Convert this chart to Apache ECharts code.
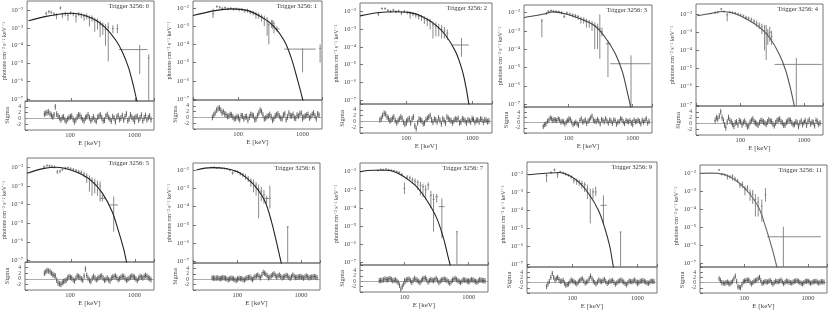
<!DOCTYPE html>
<html><head><meta charset="utf-8">
<script src="https://cdn.jsdelivr.net/npm/echarts@6/dist/echarts.min.js"></script>
<style>html,body{margin:0;padding:0;background:#fff}#c{width:830px;height:311px}</style>
</head><body><div id="c"></div>
<script>
// ---------------- DATA ----------------
const triggers = ['0','1','2','3','4','5','6','7','9','11'];
const energyRange = [20, 2000];
const fluxRanges = [
  [7.8e-8, 3.2e-2],[8.9e-8, 2.4e-2],[5.9e-8, 3.1e-2],[6.9e-8, 2.6e-2],[8.7e-8, 3.6e-2],
  [8.1e-8, 3.3e-2],[8.5e-8, 2.4e-2],[7.4e-8, 3.0e-2],[6.8e-8, 4.6e-2],[6.3e-8, 2.9e-2]
];
const sigmaRange = [-4, 6];
const sigmaTicks = [-2, 0, 2, 4];

// model curves [E keV, photons cm^-2 s^-1 keV^-1]
const model0 = [[21,2.5e-3],[40,4.4e-3],[63,5.8e-3],[100,6.6e-3],[158,5.1e-3],[251,2.5e-3],[355,8.9e-4],[500,2.0e-4],[630,4.7e-5],[794,5.8e-6],[944,5.8e-7],[1059,1.0e-7],[1150,3.2e-8]];
const model1 = [[20,3.8e-3],[44,7.1e-3],[79,8.9e-3],[142,7.1e-3],[257,2.5e-3],[367,8.9e-4],[520,1.6e-4],[661,2.0e-5],[838,1.1e-6],[1000,1.0e-7],[1100,2.5e-8]];
const model2 = [[20,5.8e-3],[38.5,8.9e-3],[69,1.0e-2],[110,9.1e-3],[175,5.4e-3],[278,1.8e-3],[394,4.8e-4],[560,5.5e-5],[705,5.0e-6],[810,5.0e-7],[890,6.3e-8],[950,1.6e-8]];
const model3 = [[20,5.4e-3],[39,8.1e-3],[57,1.1e-2],[94,8.1e-3],[155,4.4e-3],[254,1.9e-3],[370,4.5e-4],[535,5.6e-5],[690,5.8e-6],[830,3.9e-7],[920,7.9e-8],[980,2.5e-8]];
const model4 = [[21,8.1e-3],[35,1.1e-2],[52,1.4e-2],[79,1.1e-2],[127,5.2e-3],[203,1.8e-3],[289,5.0e-4],[412,6.0e-5],[520,7.4e-6],[620,7.1e-7],[700,1.0e-7],[760,2.5e-8]];
const model5 = [[20,5.0e-3],[37,9.1e-3],[59,1.05e-2],[94,7.6e-3],[151,4.0e-3],[215,1.7e-3],[307,4.2e-4],[437,4.3e-5],[555,3.5e-6],[660,4.5e-7],[740,7.9e-8],[800,2.5e-8]];
const model6 = [[22.6,1.0e-2],[39,1.35e-2],[62,1.25e-2],[100,8.1e-3],[142,3.5e-3],[203,1.0e-3],[273,1.9e-4],[345,1.5e-5],[412,1.2e-6],[493,8.0e-8],[540,2.5e-8]];
const model7 = [[20,1.0e-2],[32,1.2e-2],[51,1.2e-2],[74,9.1e-3],[106,4.3e-3],[153,1.5e-3],[220,2.8e-4],[316,2.8e-5],[403,2.2e-6],[483,1.7e-7],[513,7.4e-8],[560,2.0e-8]];
const model8 = [[21,9.1e-3],[40,1.1e-2],[63,1.2e-2],[89,8.1e-3],[126,3.5e-3],[178,7.9e-4],[251,9.5e-5],[316,9.3e-6],[376,9.1e-7],[422,8.7e-8],[460,2.0e-8]];
const model9 = [[20.3,1.0e-2],[30,1.02e-2],[39,1.0e-2],[59,6.5e-3],[84,2.8e-3],[119,7.8e-4],[170,1.15e-4],[215,1.1e-5],[273,6.8e-7],[325,6.3e-8],[350,2.0e-8]];

// measured points [E, flux, low, high, (Elow, Ehigh)]
const data0 = [[40,6.5e-3,5e-3,8e-3],[44,8e-3,6.5e-3,1e-2],[48,7.5e-3,6e-3,9e-3],[53,6e-3,4.5e-3,7.5e-3],[58,5e-3,3e-3,6.5e-3],[67,1.3e-2,1.05e-2,1.6e-2],[72,5.5e-3,3.5e-3,7e-3],[80,6.5e-3,4.5e-3,8e-3],[88,5e-3,2.5e-3,7e-3],[97,7e-3,5.5e-3,8.5e-3],[107,6.2e-3,4.5e-3,7.5e-3],[118,4.5e-3,2e-3,6.5e-3],[130,6e-3,4.5e-3,7.5e-3],[143,5.5e-3,3.5e-3,7e-3],[158,4.5e-3,2.5e-3,6e-3],[174,4.8e-3,3e-3,6.2e-3],[192,3.5e-3,1.2e-3,5e-3],[211,3.8e-3,2.2e-3,5e-3],[233,2.5e-3,6e-4,3.8e-3],[257,2.2e-3,8e-4,3.3e-3],[283,1.5e-3,3e-4,2.5e-3],[312,1.2e-3,4e-4,2e-3],[344,8e-4,1e-4,1.6e-3],[380,1.1e-3,1.3e-5,2e-3],[450,9e-4,5e-4,1.4e-3],[530,9e-4,5e-4,1.6e-3],[1190,6e-5,2.5e-6,1.1e-4,560,1580],[1650,2e-5,1e-9,3.2e-5]];
const data1 = [[41,4.7e-3,2.8e-3,9e-3],[47,1.2e-2,1e-2,1.4e-2],[52,1.1e-2,9e-3,1.3e-2],[57,9.5e-3,8e-3,1.1e-2],[63,1.05e-2,9e-3,1.2e-2],[70,9e-3,7.5e-3,1.05e-2],[77,9.5e-3,8e-3,1.1e-2],[85,8.5e-3,7e-3,1e-2],[94,9e-3,7.5e-3,1.05e-2],[104,8e-3,6.5e-3,9.5e-3],[115,8.2e-3,6.5e-3,1e-2],[127,7e-3,5.5e-3,8.5e-3],[140,7.2e-3,5.5e-3,9e-3],[155,6e-3,4.5e-3,7.5e-3],[171,5.5e-3,4e-3,7e-3],[189,4.5e-3,2.5e-3,6e-3],[209,4e-3,2.5e-3,5.5e-3],[231,3.3e-3,1.8e-3,4.5e-3],[255,2.5e-3,1e-3,3.8e-3],[282,2e-3,3e-4,3.2e-3],[300,1.2e-3,1e-4,2e-3],[330,1.5e-3,8e-4,2.2e-3],[345,1.4e-3,7e-4,2.2e-3],[360,1e-3,4e-4,1.8e-3],[400,7e-4,5e-4,1e-3,370,440],[1000,5.5e-5,2.9e-6,6e-5,520,1600],[1870,6e-5,1e-5,1e-4]];
const data2 = [[38,7.4e-3,5.5e-3,9e-3],[43,1.5e-2,1.3e-2,1.75e-2],[48,1.5e-2,1.3e-2,1.75e-2],[53,1.2e-2,1e-2,1.4e-2],[58,1.05e-2,8.5e-3,1.25e-2],[64,1.25e-2,1.05e-2,1.45e-2],[70,1e-2,8e-3,1.2e-2],[77,1.1e-2,9e-3,1.3e-2],[85,8.5e-3,6.5e-3,1.05e-2],[94,1.05e-2,8.5e-3,1.25e-2],[104,9e-3,7e-3,1.1e-2],[115,8e-3,4e-3,1e-2],[127,7.5e-3,5.5e-3,9.5e-3],[140,6.5e-3,4.5e-3,8.5e-3],[155,5.5e-3,3.5e-3,7.5e-3],[171,5e-3,3e-3,6.5e-3],[189,4e-3,2e-3,5.5e-3],[209,3.2e-3,1.5e-3,4.5e-3],[231,2.8e-3,1e-3,4e-3],[255,1.8e-3,3e-4,2.8e-3],[282,1.5e-3,4e-4,2.5e-3],[312,1.1e-3,4e-4,2e-3],[345,1e-3,3e-4,1.8e-3],[380,8e-4,3e-4,1.4e-3],[420,6e-4,2.5e-4,1e-3],[690,1.3e-4,2.8e-5,3.2e-4,500,890]];
const data3 = [[38,3.5e-3,4.5e-4,4.5e-3],[45,9e-3,7.5e-3,1.05e-2],[48,1.2e-2,1e-2,1.4e-2],[53,1.3e-2,1.1e-2,1.5e-2],[58,1.2e-2,1e-2,1.4e-2],[64,1.15e-2,9.5e-3,1.35e-2],[70,1.1e-2,9e-3,1.3e-2],[77,1e-2,8e-3,1.2e-2],[85,6e-3,5e-3,7.5e-3],[94,9.5e-3,7.5e-3,1.15e-2],[104,8.5e-3,6.5e-3,1e-2],[115,7.5e-3,5.5e-3,9e-3],[127,7e-3,5e-3,8.5e-3],[140,6e-3,4e-3,7.5e-3],[155,4.5e-3,2.5e-3,6e-3],[171,4.2e-3,2.5e-3,5.5e-3],[189,3.5e-3,1.5e-3,4.5e-3],[209,3e-3,1.5e-3,4e-3],[231,2.5e-3,1e-3,3.5e-3],[255,2e-3,1e-4,3e-3],[282,1.6e-3,1e-4,2.5e-3],[306,1.3e-3,3e-5,8e-3],[330,9e-4,5e-4,1.5e-3],[410,2e-4,3e-6,3e-4,380,450],[940,1.6e-5,1e-9,4.6e-5,445,1890]];
const data4 = [[40,1.2e-2,1e-2,1.4e-2],[44,1.25e-2,1.05e-2,1.45e-2],[50,1.9e-2,1.6e-2,2.2e-2],[55,1.4e-2,1.2e-2,1.6e-2],[62,9e-3,4e-3,1.2e-2],[68,1.3e-2,1.1e-2,1.5e-2],[75,1.2e-2,1e-2,1.4e-2],[83,1.15e-2,9.5e-3,1.35e-2],[92,1e-2,8.5e-3,1.2e-2],[101,9e-3,7.5e-3,1.05e-2],[112,8e-3,6.5e-3,9.5e-3],[123,6.5e-3,5e-3,8e-3],[135,6e-3,4.5e-3,7.5e-3],[149,5e-3,3.5e-3,6.5e-3],[164,4e-3,2.8e-3,5.2e-3],[180,3.2e-3,2e-3,4.5e-3],[198,2.5e-3,1.5e-3,3.5e-3],[218,2e-3,8e-4,3e-3],[240,1.2e-3,1e-4,2.5e-3],[255,9e-4,3e-5,2.5e-3],[270,8e-4,2e-4,1.5e-3],[290,1e-3,3e-4,2e-3],[310,6e-4,2e-4,1.2e-3],[760,1.7e-5,1e-9,3.9e-5,345,1915]];
const data5 = [[37,1.1e-2,9e-3,1.3e-2],[41,1.3e-2,1.1e-2,1.5e-2],[45,1.25e-2,1.05e-2,1.45e-2],[49,1.2e-2,1e-2,1.4e-2],[54,1.1e-2,9e-3,1.3e-2],[60,6e-3,4.5e-3,7.5e-3],[66,6.5e-3,5e-3,8e-3],[72,8e-3,6.5e-3,9.5e-3],[80,9.5e-3,8e-3,1.1e-2],[88,1e-2,8.5e-3,1.15e-2],[97,9e-3,7.5e-3,1.05e-2],[107,8e-3,6.5e-3,9.5e-3],[118,7e-3,5.5e-3,8.5e-3],[130,6e-3,4.5e-3,7.5e-3],[143,5.5e-3,4e-3,7e-3],[158,4.5e-3,3e-3,6e-3],[174,3.5e-3,1.5e-3,5e-3],[192,2.5e-3,5e-4,3.8e-3],[211,2e-3,3e-4,3e-3],[233,1.5e-3,4e-4,2.5e-3],[257,1.2e-3,3e-4,2e-3],[283,1e-3,1.5e-4,1.8e-3],[307,2.2e-4,1.5e-4,3.5e-4,280,340],[463,9.7e-5,3.5e-6,2.8e-4,400,540]];
const data6 = [[39,1.35e-2,1.2e-2,1.5e-2],[43,1.4e-2,1.25e-2,1.55e-2],[47,1.3e-2,1.15e-2,1.45e-2],[52,1.35e-2,1.2e-2,1.5e-2],[57,1.25e-2,1.1e-2,1.4e-2],[63,1.2e-2,1.05e-2,1.35e-2],[69,1.15e-2,1e-2,1.3e-2],[76,1e-2,8.5e-3,1.15e-2],[84,7e-3,5.5e-3,8.5e-3],[92,9e-3,7.5e-3,1.05e-2],[101,8e-3,6.5e-3,9.5e-3],[111,6.5e-3,5e-3,8e-3],[122,5.5e-3,4e-3,7e-3],[134,4.5e-3,3e-3,6e-3],[148,3.5e-3,2.2e-3,4.8e-3],[163,2.5e-3,1.2e-3,3.5e-3],[179,2e-3,6e-4,3e-3],[197,1.5e-3,4e-4,2.2e-3],[216,9e-4,2.3e-5,1.6e-3],[238,7e-4,2e-4,1.2e-3],[262,4.5e-4,1.5e-4,8e-4],[289,2.8e-4,1.5e-4,4e-4,265,315],[325,3e-4,8e-5,1.4e-3],[620,8e-6,1e-9,8e-6]];
const data7 = [[38,1.2e-2,1.05e-2,1.35e-2],[42,1.35e-2,1.2e-2,1.5e-2],[46,1.3e-2,1.15e-2,1.45e-2],[51,1.4e-2,1.25e-2,1.55e-2],[56,1.3e-2,1.15e-2,1.45e-2],[62,1.2e-2,1.05e-2,1.35e-2],[68,1.15e-2,1e-2,1.3e-2],[75,1e-2,8.5e-3,1.15e-2],[82,9e-3,7.5e-3,1.05e-2],[90,7e-3,5.5e-3,8.5e-3],[99,1.2e-3,6e-4,2.5e-3],[109,5e-3,3.5e-3,6.5e-3],[120,4.5e-3,3e-3,6e-3],[132,3.5e-3,2.2e-3,4.8e-3],[145,3e-3,1.8e-3,4.2e-3],[160,2.5e-3,1e-3,3.5e-3],[176,1.8e-3,5e-4,2.8e-3],[193,1.5e-3,4e-4,2.2e-3],[212,1e-3,3e-4,1.8e-3],[233,1.9e-3,1e-3,2.6e-3],[256,5e-4,1e-4,9e-4],[282,3e-4,5e-6,6e-4],[316,4.2e-4,2e-4,6e-4,300,330],[380,1.2e-4,2.2e-6,3.4e-4,340,420],[654,5e-6,1e-9,5e-6]];
const data8 = [[40,8e-3,3.5e-3,1e-2],[47,1.2e-2,1e-2,1.4e-2],[53,1.7e-2,1.4e-2,2e-2],[59,1e-2,6e-3,1.2e-2],[65,1.3e-2,1.1e-2,1.5e-2],[72,1.15e-2,9.5e-3,1.35e-2],[79,1e-2,8e-3,1.2e-2],[87,8.5e-3,7e-3,1e-2],[96,7e-3,5.5e-3,8.5e-3],[105,4.5e-3,3e-3,6e-3],[116,4e-3,2.5e-3,5.5e-3],[127,3.5e-3,2.2e-3,4.8e-3],[140,3e-3,1.5e-3,4.2e-3],[154,2.5e-3,1e-3,3.5e-3],[170,1.5e-3,4e-4,2.5e-3],[188,6e-4,1.8e-5,1.5e-3],[207,1e-3,4e-4,1.6e-3],[228,1e-3,6e-4,2e-3],[300,1.8e-4,1.8e-5,6.5e-4,270,335],[550,6e-6,1e-9,6e-6]];
const data9 = [[40,1.55e-2,1.35e-2,1.75e-2],[44,9e-3,7.5e-3,1.05e-2],[49,8.5e-3,7e-3,1e-2],[54,7e-3,4.5e-3,9e-3],[59,6.5e-3,5e-3,8e-3],[65,7e-3,4e-3,9e-3],[71,5e-3,3.5e-3,6.5e-3],[78,4e-3,3e-3,5e-3],[85,2.2e-3,1.5e-3,3e-3],[93,2.5e-3,1.5e-3,3.5e-3],[102,1.3e-3,6e-4,2e-3],[112,1.5e-3,9e-4,2.2e-3],[123,8e-4,3e-4,1.3e-3],[135,7e-4,2e-4,1.2e-3],[149,3.5e-4,4e-5,7e-4],[165,2.5e-4,4e-5,5e-4],[188,1.5e-4,2e-5,3.5e-4],[215,6.3e-4,2.7e-4,1.5e-3],[411,3e-6,1e-9,1.1e-5,229,1604]];

// residual energy bins (keV): main grid and interleaved grid, residuals in sigma per panel
const residE  = [40,44,49,54,59,65,72,79,87,96,106,117,129,142,157,173,190,210,231,255,281,310,342,377,415,458,505,557,614,677,746,822,907,1000,1102,1216,1340,1478,1630,1797];
const residEb = [42,46.5,51.5,56.5,62,68.5,75.5,83,91.5,101,111.5,123,135.5,149.5,165,181.5,200,220,243,268,295,325.5,359,395.5,436,481,531,585,645,711,784,863,952,1050,1158,1277,1408,1553,1711];
const resid0 = [1.5,2,1.5,0.5,4,0.8,-0.5,0.5,-1,0.3,0.8,-1.2,0.5,1,-0.5,0.2,1.2,-0.8,0.5,-1,0.8,0.2,-0.6,1.3,-0.3,0.6,-1.1,0.9,0.1,-0.5,1.5,-0.2,0.4,-1,0.7,0.2,-0.8,1,0.3,-0.4];
const resid1 = [0,1.5,3,2.5,2,1,0.5,0.8,-0.5,0.3,-0.8,0.5,0.2,-1,1,0.5,-0.5,1.5,2,-0.5,0.3,1,-1,0.5,1.2,-0.3,0.8,-0.8,1.5,0.5,-0.2,0.8,1.2,-0.5,0.5,1,0.3,1.5,-0.5,0.8];
const resid2 = [0.5,2,2.5,1,0.5,1.5,-0.5,0.8,1,-1,0.5,-0.5,1.5,-2.5,0.8,0.2,-0.5,1,2,-0.3,0.5,1.2,-0.8,0.3,1.5,0.5,-0.5,0.8,1,-0.2,0.6,-0.5,0.3,1,-0.4,0.5,0.8,-0.3,0.4,0.2];
const resid3 = [-1.5,-0.5,1,1.5,1.2,0.8,1,0.5,-0.5,0.8,1.2,-0.8,0.2,-1,1.5,0.5,-0.3,1,2.5,0.5,1.2,-0.5,0.8,1.5,-0.2,0.6,1,-0.6,0.4,1.2,-0.4,0.5,0.8,-0.8,0.3,1,-0.5,0.2,1.5,0.5];
const resid4 = [1,1.5,4,1,-1.5,2,0.5,-1,0.5,1,-0.5,0.8,-1.2,0.4,1.5,0.2,-0.6,1,0.5,-0.3,1.2,0.6,-0.8,0.9,1.5,0.2,-0.5,0.8,1,-0.4,0.5,-1,0.8,0.3,-0.6,1.2,0.4,-0.8,0.6,0.2];
const resid5 = [2,3,2.5,1.5,1,-1.5,-2,-1,-0.5,0.8,0.3,-0.8,1,0.5,-0.5,3.5,0.2,-1,0.8,-0.4,0.5,1,-0.5,0.3,-0.8,0.6,1,-0.3,0.5,0.8,-0.5,0.2,1,0.5,-0.6,0.8,0.3,1.2,0.4,-0.3];
const resid6 = [0.5,0.3,0.5,0.2,0.6,0.3,-0.2,0.4,0.1,-0.5,0.3,0.2,-0.3,0.5,0.8,-0.2,1,1.5,0.5,2.5,1.8,0.5,1.2,2,0.8,1.5,0.5,1,1.2,0.3,1.5,0.6,0.8,1,0.4,1.2,0.5,0.8,1,0.6];
const resid7 = [0.2,0.3,0.8,0.5,1,0.2,0.5,-0.5,-3,-1,0.5,0.8,-0.5,1,0.3,-0.5,0.8,1.2,-0.3,0.6,0.2,1,-0.5,0.5,0.8,0.3,-0.8,0.4,1,0.2,-0.5,0.5,0.3,-0.3,0.6,0.2,-0.4,0.5,0.3,0.1];
const resid8 = [-1.5,0.5,3.5,1,2,0.5,0.8,-1,-0.5,1,0.3,-0.5,0.8,1.5,-0.2,0.5,2.5,0.6,-0.5,1,0.3,1.2,-0.3,0.5,0.8,-0.6,0.4,1,0.2,-0.8,0.6,0.3,1,-0.4,0.5,0.8,0.2,-0.3,0.6,0.4];
const resid9 = [1.5,0,-0.3,0.2,-0.5,0.5,2.5,-1.5,-2,0.3,0.8,1,-0.5,0.5,1,2,-0.3,0.4,0.2,0.8,-0.6,0.5,0.3,1,-0.4,0.6,0.2,-0.2,0.5,0.8,0.1,-0.5,0.4,0.6,-0.3,0.3,0.5,-0.2,0.4,0.2];
const resid0b = [1.8,2.2,1,1.2,1.5,0.2,0.2,-0.5,-0.2,0.5,-0.3,-0.5,1.2,0.3,-0.8,0.6,0.2,-0.2,-0.6,0.4,1.2,-0.8,0.8,0.3,-0.9,0.1,0.5,-0.4,1,0.6,-0.8,1.2,-0.2,0.5,-0.6,1.1,0.2,-0.5,0.8];
const resid1b = [0.8,2.5,3.2,1.5,1.2,0.3,1,0.2,-0.3,-0.2,0.6,-0.5,0.3,0.1,0.8,-0.8,0.6,2.5,0.8,-0.2,0.5,0.2,-0.4,0.9,0.4,-0.5,1.2,0.2,0.6,1,-0.3,0.4,1.5,0.2,0.8,-0.2,1,0.5,1.2];
const resid2b = [1,2.8,1.5,0.2,1,0.3,0.2,1.5,-0.3,-0.5,1,0.8,-1.5,-0.5,0.5,-0.8,0.6,1.5,0.5,0.8,-0.2,0.4,0.9,-0.6,1,0.2,0.3,0.6,-0.5,0.9,0.2,0.5,-0.2,0.6,0.3,-0.2,0.6,0.5,-0.1];
const resid3b = [-0.8,0.5,1.8,0.8,1,1.5,0.2,0.3,0.2,1.5,0.2,-0.3,-0.5,0.8,0.2,1,0.5,1.8,1,0.4,0.5,1.2,0.3,0.6,1,-0.3,0.8,0.2,1.5,0.3,0.8,0.2,-0.2,1,0.5,0.4,0.9,0.8,-0.2];
const resid4b = [2,2.5,2,-0.5,0.5,1,-0.3,0.2,-0.5,0.6,0.3,-0.2,-0.8,1,0.6,-0.2,0.3,0.8,0.1,0.5,0.8,-0.2,0.2,1.2,0.6,-0.6,0.4,1.2,0.2,-0.3,0.3,0.2,-0.4,0.9,0.6,-0.2,0.3,1,-0.3];
const resid5b = [2.5,2.8,2,1.2,-0.5,-1.8,-1.5,-0.8,0.2,0.5,-0.3,0.2,0.8,0,1,1.2,-0.5,0.2,0.3,0.1,0.8,0.2,-0.2,-0.3,0.2,0.8,0.4,0.1,0.9,0.2,-0.2,0.6,0.8,-0.1,0.2,0.6,0.8,0.9,0.1];
const resid6b = [0.4,0.4,0.3,0.4,0.5,0.1,0.1,0.3,-0.2,-0.1,0.2,-0.1,0.2,0.6,0.3,0.5,1.2,1,1.5,2.2,1.2,0.8,1.6,1.4,1.2,1,0.8,1.4,0.7,0.9,1.1,0.7,0.9,0.7,0.8,0.9,0.6,0.9,0.8];
const resid7b = [0.3,0.5,0.6,0.8,0.6,0.3,0,-1.5,-2,-0.2,0.6,0.2,0.3,0.6,-0.1,0.2,1,0.5,0.2,0.4,0.6,0.3,0,0.6,0.5,-0.2,-0.2,0.7,0.6,-0.1,0,0.4,0,0.2,0.4,-0.1,0,0.4,0.2];
const resid8b = [-0.5,2,2,1.5,1.2,0.6,-0.2,-0.8,0.3,0.6,-0.1,0.2,1.2,0.6,0.2,1.5,1.5,0,0.2,0.6,0.8,0.4,0.1,0.6,0.1,-0.1,0.7,0.6,-0.3,-0.1,0.4,0.6,0.3,0,0.6,0.5,-0.1,0.2,0.5];
const resid9b = [0.8,-0.2,0,-0.2,0,1.5,0.5,-1.8,-0.8,0.6,0.9,0.2,0,0.8,1.5,0.8,0,0.3,0.5,0.1,0,0.4,0.6,0.3,0.1,0.4,0,0.2,0.6,0.4,-0.2,0,0.5,0.2,0,0.4,0.2,0.1,0.3];

const models = [model0,model1,model2,model3,model4,model5,model6,model7,model8,model9];
const datas  = [data0,data1,data2,data3,data4,data5,data6,data7,data8,data9];
const resids = [resid0,resid1,resid2,resid3,resid4,resid5,resid6,resid7,resid8,resid9];
const residsB = [resid0b,resid1b,resid2b,resid3b,resid4b,resid5b,resid6b,resid7b,resid8b,resid9b];

// ---------------- LAYOUT / STYLE ----------------
// [left, right, top, mainBottom, residualBottom] in px
const layout = [
  [25,154,1,101,130],[193,322,1,100,129],[360,492,3,104,133],[524,652,5,107,133],[696,823,4,106,135],
  [25,154,158,262,290],[193,320,163,263,290],[360,488,163,265,292],[527,657,162,267,293],[700,827,165,267,293]
];
const curveColors = ['#222','#222','#222','#444','#555','#222','#222','#222','#333','#666'];
const FONT = "'Liberation Serif','DejaVu Serif',serif";
const SUP = {'-':'\u207B','0':'\u2070','1':'\u00B9','2':'\u00B2','3':'\u00B3','4':'\u2074','5':'\u2075','6':'\u2076','7':'\u2077','8':'\u2078','9':'\u2079'};
const BIN_HALF = 1.024;
function isPow10(v){const l=Math.log10(v);return Math.abs(l-Math.round(l))<1e-6;}
function powLabel(v){ if(!isPow10(v)) return ''; const e=String(Math.round(Math.log10(v))); return '10'+e.split('').map(c=>SUP[c]).join(''); }

function errItem(color){
  return function(params, api){
    const E=api.value(0), y=api.value(1), lo=api.value(2), hi=api.value(3), el=api.value(4), eh=api.value(5);
    const a=api.coord([E,lo]), b=api.coord([E,hi]);
    const x0 = el>0 ? el : E/1.035, x1 = eh>0 ? eh : E*1.035;
    const c=api.coord([x0,y]), d=api.coord([x1,y]);
    const st={stroke:color,lineWidth:0.9};
    return {type:'group',children:[
      {type:'line',shape:{x1:a[0],y1:a[1],x2:b[0],y2:b[1]},style:st},
      {type:'line',shape:{x1:c[0],y1:c[1],x2:d[0],y2:d[1]},style:st}
    ]};
  };
}

const grids=[], xAxes=[], yAxes=[], series=[], titles=[];
const tickStyle = {inside:true,length:3,lineStyle:{color:'#555',width:0.8}};
const lblStyle = {fontFamily:FONT,fontSize:6.5,color:'#444'};
const GAP = ['-','-'];
layout.forEach((g,i)=>{
  const [L,R,T,MB,RB]=g;
  const gi=2*i;
  grids.push({left:L,top:T,width:R-L,height:MB-T,show:true,borderColor:'#666',borderWidth:0.9,backgroundColor:'transparent'});
  grids.push({left:L,top:MB,width:R-L,height:RB-MB,show:true,borderColor:'#666',borderWidth:0.9,backgroundColor:'transparent'});
  xAxes.push({type:'log',gridIndex:gi,min:energyRange[0],max:energyRange[1],logBase:10,
    axisLine:{show:false},axisTick:tickStyle,axisLabel:{show:false},splitLine:{show:false}});
  xAxes.push({type:'log',gridIndex:gi+1,min:energyRange[0],max:energyRange[1],logBase:10,
    axisLine:{show:false},axisTick:tickStyle,splitLine:{show:false},
    axisLabel:Object.assign({margin:2,showMinLabel:false,showMaxLabel:false,formatter:v=>isPow10(v)?String(Math.round(v)):''},lblStyle),
    name:'E [keV]',nameLocation:'middle',nameGap:8,nameTextStyle:Object.assign({},lblStyle,{fontSize:7})});
  yAxes.push({type:'log',gridIndex:gi,min:fluxRanges[i][0],max:fluxRanges[i][1],logBase:10,
    axisLine:{show:false},axisTick:tickStyle,splitLine:{show:false},
    axisLabel:Object.assign({margin:4,showMinLabel:false,showMaxLabel:false,formatter:powLabel},lblStyle),
    name:'photons cm\u207B\u00B2 s\u207B\u00B9 keV\u207B\u00B9',nameLocation:'middle',nameRotate:90,nameGap:14,
    nameTextStyle:Object.assign({},lblStyle,{fontSize:6})});
  yAxes.push({type:'value',gridIndex:gi+1,min:sigmaRange[0],max:sigmaRange[1],interval:2,
    axisLine:{show:false},axisTick:tickStyle,splitLine:{show:false},
    axisLabel:Object.assign({margin:4,fontSize:5.5,formatter:v=>sigmaTicks.indexOf(v)>=0?String(v):''},{fontFamily:FONT,color:'#444'}),
    name:'Sigma',nameLocation:'middle',nameRotate:90,nameGap:14,nameTextStyle:Object.assign({},lblStyle,{fontSize:6.5})});
  titles.push({text:'Trigger 3256: '+triggers[i],right:830-(R-5),top:T+2,padding:0,
    textStyle:{fontFamily:FONT,fontSize:6.5,fontWeight:'normal',color:'#333'}});

  const rows = datas[i].map(r=>r.length>=6?r:[r[0],r[1],r[2],r[3],0,0]);
  series.push({type:'custom',xAxisIndex:gi,yAxisIndex:gi,data:rows,renderItem:errItem('#7d7d7d'),clip:true,encode:{x:0,y:1},silent:true,z:2});
  series.push({type:'line',xAxisIndex:gi,yAxisIndex:gi,data:models[i],smooth:0.35,smoothMonotone:'none',showSymbol:false,clip:true,
    lineStyle:{color:curveColors[i],width:1.1},silent:true,z:3});
  // residual crosses (+/-1 sigma vertical, bin-width horizontal) as broken polyline segments, on their own canvas layer
  const seg=[];
  const addRes=(E,s)=>{ if(s==null) return; seg.push([E,s-1],[E,s+1],GAP,[E/BIN_HALF,s],[E*BIN_HALF,s],GAP); };
  residE.forEach((E,k)=>addRes(E,resids[i][k]));
  residEb.forEach((E,k)=>addRes(E,residsB[i][k]));
  series.push({type:'line',xAxisIndex:gi+1,yAxisIndex:gi+1,data:seg,connectNulls:false,showSymbol:false,symbol:'none',
    clip:false,silent:true,zlevel:1,z:10,lineStyle:{color:'#4a4a4a',width:0.8},
    markLine:{silent:true,symbol:'none',label:{show:false},lineStyle:{color:'#999',width:0.8,type:'solid'},data:[{yAxis:0}]}});
});

const chart = echarts.init(document.getElementById('c'),null,{renderer:'canvas'});
chart.setOption({animation:false,backgroundColor:'#fff',title:titles,grid:grids,xAxis:xAxes,yAxis:yAxes,series:series});
</script>
</body></html>
